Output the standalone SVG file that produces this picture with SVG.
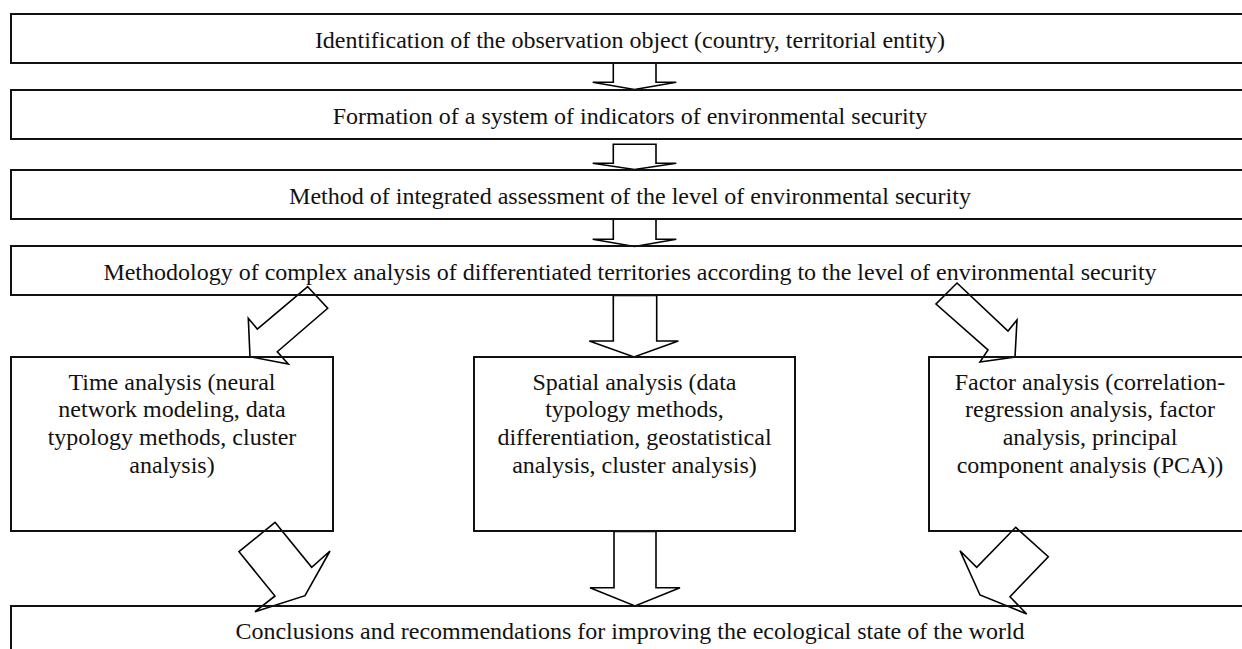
<svg xmlns="http://www.w3.org/2000/svg" width="1242" height="649" viewBox="0 0 1242 649">
<style>
.box{fill:none;stroke:#111;stroke-width:2}
.arr{fill:none;stroke:#000;stroke-width:1.6;stroke-linejoin:miter}
.t{font-family:"Liberation Serif","Times New Roman",serif;font-size:24px;fill:#111;text-anchor:middle}
</style>
<rect width="1242" height="649" fill="#fff"/>
<g id="connectors">
<path class="arr" d="M613.3,63 V82.3 H592.7 L634.5,89.5 L676.3,82.3 H656 V63 Z"/>
<path class="arr" d="M613.3,144.3 V163.3 H592.7 L634.5,169.5 L676.3,163.3 H656 V144.3 Z"/>
<path class="arr" d="M613.3,219 V239.3 H592.7 L634.5,246.5 L676.3,239.3 H656 V219 Z"/>
<path class="arr" d="M613.3,295.5 V341 H589.3 L634,357 L678.3,341 H656.7 V295.5 Z"/>
<polygon class="arr" points="307.7,286.7 327.7,308.3 277.3,351.7 288.3,364 250,356.7 248.3,318.3 257.3,329"/>
<polygon class="arr" points="957,283 1008,331 1017,320 1015,357 980,362 988,350 936,304"/>
<path class="arr" d="M614,531.5 V587.7 H590 L635,606 L680,587.7 H656 V531.5 Z"/>
<polygon class="arr" points="275,522.3 311.7,567.3 330,551 305,595.7 255,611.7 275,596 239,551.7"/>
<polygon class="arr" points="1015.7,527.3 1048.3,556.7 1010,596.7 1026.7,614 980,595 960,550.7 976.7,567.3"/>
</g>
<g id="n1"><rect class="box" x="11" y="14" width="1238" height="49"/><text class="t" x="630" y="47.5">Identification of the observation object (country, territorial entity)</text></g>
<g id="n2"><rect class="box" x="11" y="90" width="1238" height="49"/><text class="t" x="630" y="123.5">Formation of a system of indicators of environmental security</text></g>
<g id="n3"><rect class="box" x="11" y="170" width="1238" height="49"/><text class="t" x="630" y="203.5">Method of integrated assessment of the level of environmental security</text></g>
<g id="n4"><rect class="box" x="11" y="246" width="1238" height="49"/><text class="t" x="630" y="279.5">Methodology of complex analysis of differentiated territories according to the level of environmental security</text></g>
<g id="n5"><rect class="box" x="11" y="357" width="322" height="174"/>
<text class="t" x="172" y="389.5">Time analysis (neural</text>
<text class="t" x="172" y="417.2">network modeling, data</text>
<text class="t" x="172" y="444.9">typology methods, cluster</text>
<text class="t" x="172" y="472.6">analysis)</text></g>
<g id="n6"><rect class="box" x="474" y="357" width="321" height="174"/>
<text class="t" x="634.5" y="389.5">Spatial analysis (data</text>
<text class="t" x="634.5" y="417.2">typology methods,</text>
<text class="t" x="634.5" y="444.9">differentiation, geostatistical</text>
<text class="t" x="634.5" y="472.6">analysis, cluster analysis)</text></g>
<g id="n7"><rect class="box" x="929" y="357" width="322" height="174"/>
<text class="t" x="1090" y="389.5">Factor analysis (correlation-</text>
<text class="t" x="1090" y="417.2">regression analysis, factor</text>
<text class="t" x="1090" y="444.9">analysis, principal</text>
<text class="t" x="1090" y="472.6">component analysis (PCA))</text></g>
<g id="n8"><rect class="box" x="11" y="606" width="1238" height="60"/><text class="t" x="630" y="639">Conclusions and recommendations for improving the ecological state of the world</text></g>
</svg>
